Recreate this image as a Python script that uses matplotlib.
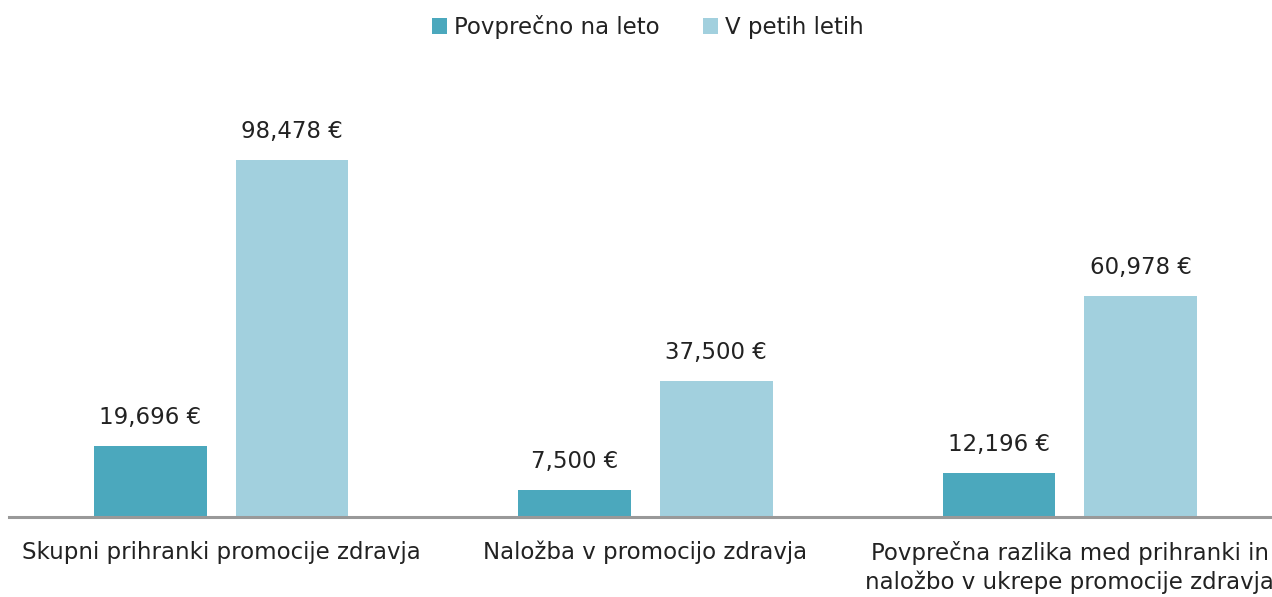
import matplotlib
matplotlib.use("Agg")
import matplotlib.pyplot as plt
import numpy as np

categories = ["Skupni prihranki promocije zdravja",
              "Naložba v promocijo zdravja",
              "Povprečna razlika med prihranki in\nnaložbo v ukrepe promocije zdravja"]
series_names = ["Povprečno na leto", "V petih letih"]
per_year = [19696, 7500, 12196]
five_years = [98478, 37500, 60978]
value_labels_year = ["19,696 €", "7,500 €", "12,196 €"]
value_labels_five = ["98,478 €", "37,500 €", "60,978 €"]

dark = "#4BA8BD"
light = "#A2D0DE"

plt.rcParams['font.family'] = ['DejaVu Sans']

W, H = 1272, 597
fig = plt.figure(figsize=(W/100, H/100), dpi=100)
# axes in pixel coordinates: x from 9 to 1282, y from 517 (baseline) up to 120
left_px, right_px, bot_px, top_px = 9, 1282, 517, 120
ax = fig.add_axes([left_px/W, 1-bot_px/H, (right_px-left_px)/W, (bot_px-top_px)/H])

x = np.arange(len(categories))
bw = 0.266
off = 0.167
b1 = ax.bar(x - off, per_year, bw, color=dark, label=series_names[0])
b2 = ax.bar(x + off, five_years, bw, color=light, label=series_names[1])

ax.set_xlim(-0.5, 2.5)
ax.set_ylim(0, 109500)

for rect, lab in zip(b1, value_labels_year):
    ax.annotate(lab, (rect.get_x() + rect.get_width()/2, rect.get_height()),
                xytext=(0, 12), textcoords="offset points", ha="center", va="bottom",
                fontsize=16.5, color="#222222")
for rect, lab in zip(b2, value_labels_five):
    ax.annotate(lab, (rect.get_x() + rect.get_width()/2, rect.get_height()),
                xytext=(0, 12), textcoords="offset points", ha="center", va="bottom",
                fontsize=16.5, color="#222222")

for s in ["top", "right", "left"]:
    ax.spines[s].set_visible(False)
ax.spines["bottom"].set_color("#999999")
ax.spines["bottom"].set_linewidth(2.2)
ax.set_yticks([])
ax.set_xticks(x)
ax.set_xticklabels(categories, fontsize=16.5, color="#222222", linespacing=1.3)
ax.tick_params(axis="x", length=0, pad=17)

fig.legend(handles=[b1, b2], labels=series_names, loc="center",
           bbox_to_anchor=(648/W, 1-27/H), ncol=2, frameon=False,
           fontsize=16.5, handlelength=0.65, handleheight=0.65, handletextpad=0.3,
           columnspacing=1.9, labelcolor="#222222")

fig.savefig("out.png", dpi=100)
